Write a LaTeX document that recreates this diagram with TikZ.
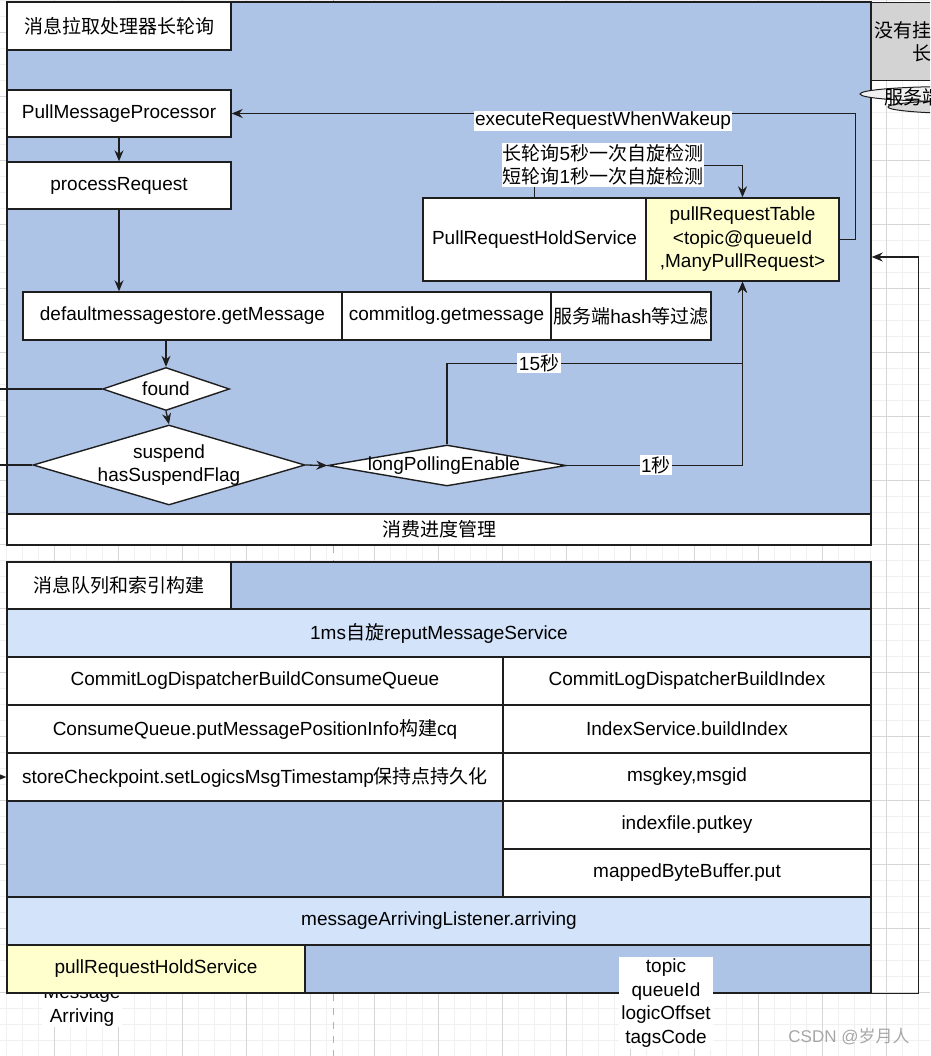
\documentclass[tikz,border=0pt]{standalone}
\usepackage{fontspec}
\setmainfont{Liberation Sans}
\newfontfamily\cjk{Noto Sans CJK SC}
\usetikzlibrary{arrows.meta,shapes.geometric,calc}
\definecolor{cblue}{RGB}{174,196,230}
\definecolor{clight}{RGB}{210,227,250}
\definecolor{cyel}{RGB}{255,255,206}
\definecolor{cgray}{RGB}{211,211,211}
\definecolor{cline}{RGB}{30,30,30}
\definecolor{gminor}{RGB}{240,240,240}
\definecolor{gmajor}{RGB}{214,214,214}
\begin{document}
\begin{tikzpicture}[x=1pt,y=-1pt,
 font=\fontsize{19}{23.5}\selectfont,
 bx/.style={draw=cline,line width=1.4pt,fill=white,inner sep=0pt,align=center},
 arr/.style={draw=cline,line width=1.3pt,-{Stealth[length=11pt,width=9pt]}},
 ln/.style={draw=cline,line width=1.3pt},
 lbl/.style={fill=white,inner sep=1.5pt,align=center},
 dia/.style={diamond,draw=cline,line width=1.4pt,fill=white,inner sep=0pt}]
\useasboundingbox (0,0) rectangle (930,1056);
\clip (0,0) rectangle (930,1056);
% grid
\foreach \x in {6,22,...,926} \draw[gminor,line width=0.8pt] (\x,0) -- (\x,1056);
\foreach \y in {0,16,...,1056} \draw[gminor,line width=0.8pt] (0,\y) -- (930,\y);
\foreach \x in {54,118,...,926} \draw[gmajor,line width=0.8pt] (\x,0) -- (\x,1056);
\foreach \y in {32,96,...,1056} \draw[gmajor,line width=0.8pt] (0,\y) -- (930,\y);
\draw[gray!60,line width=1pt,dash pattern=on 7pt off 7pt] (333,0) -- (333,1056);

% ===== top container =====
\node[draw=cline,line width=1.4pt,fill=cblue,minimum width=864pt,minimum height=543pt,inner sep=0pt] (topc) at (439,273.5) {};
\node[bx,minimum width=864pt,minimum height=31pt] (prog) at (439,529.5) {{\cjk 消费进度管理}};
\node[bx,minimum width=224pt,minimum height=48pt] (title1) at (119,26) {{\cjk 消息拉取处理器长轮询}};
\node[bx,minimum width=224pt,minimum height=47pt] (pmp) at (119,113.5) {PullMessageProcessor};
\node[bx,minimum width=224pt,minimum height=47pt] (pr) at (119,185.5) {processRequest};
\node[bx,minimum width=319pt,minimum height=48pt] (dms) at (182.5,316) {defaultmessagestore.getMessage};
\node[bx,minimum width=209pt,minimum height=48pt] (clg) at (446.5,316) {commitlog.getmessage};
\node[bx,minimum width=160pt,minimum height=48pt] (flt) at (631,316) {{\cjk 服务端}hash{\cjk 等过滤}};
\node[bx,minimum width=223pt,minimum height=83pt] (prhs) at (534.5,239.5) {PullRequestHoldService};
\node[bx,fill=cyel,minimum width=193pt,minimum height=83pt] (prt) at (742.5,239.5) {pullRequestTable\\<topic@queueId\\,ManyPullRequest>};
\node[dia,minimum width=127pt,minimum height=43pt] (found) at (166,389) {};
\node at (found) {found};
\node[dia,minimum width=272pt,minimum height=80pt] (sus) at (169,465) {};
\node[align=center] at (sus) {suspend\\hasSuspendFlag};
\node[dia,minimum width=238pt,minimum height=41pt] (lpe) at (447,465.5) {};
\node at ($(lpe)+(-3,0)$) {longPollingEnable};

\coordinate (leftA) at (-5,389);
\coordinate (leftB) at (-5,465);

% connectors (top)
\draw[arr] (pmp) -- (pr);
\draw[arr] (pr.south) -- (pr.south |- dms.north);
\draw[arr] (found.north |- dms.south) -- (found.north);
\draw[arr] (found.south) -- ($(found.south)!1!(sus.north)$);
\draw[ln] (found.west) -- (leftA);
\draw[ln] (sus.west) -- (leftB);
\draw[arr] (sus.east) -- (lpe.west);
\draw[arr] (lpe.north) |- ($(prt.south)+(0,82)$) -- (prt.south);
\node[lbl] at (539,363) {15{\cjk 秒}};
\draw[arr] (lpe.east) -| (prt.south);
\node[lbl] at (656,465) {1{\cjk 秒}};
\draw[arr] (prt.east) -- ++(16,0) |- (pmp.east);
\node[lbl] at (603,121) {executeRequestWhenWakeup};
\draw[arr] (prhs.north) |- ($(prt.north)+(0,-32)$) -- (prt.north);
\node[lbl,inner sep=1pt] at (603,165) {{\cjk 长轮询}5{\cjk 秒一次自旋检测}\\{\cjk 短轮询}1{\cjk 秒一次自旋检测}};

% right gray pieces
\node[draw=cline,line width=1.4pt,fill=cgray,minimum width=120pt,minimum height=78pt,inner sep=0pt,anchor=north west] (nohold) at (871,2) {};
\node[anchor=west,inner sep=0pt] at (874,30) {{\cjk 没有挂}};
\node[anchor=west,inner sep=0pt] at (912,53) {{\cjk 长}};
\draw[cline,line width=1pt,fill=gray!30] (985,107) ellipse [x radius=97pt,y radius=7pt];
\draw[cline,line width=1pt,fill=gray!12] (955,94) ellipse [x radius=95pt,y radius=7.5pt];
\node[anchor=west,inner sep=0pt] (srv) at (884,97) {{\cjk 服务端}};

% ===== bottom container =====
\node[anchor=center,fill=white,inner sep=1pt,align=center] (msgarr) at (82,1006) {Message\\Arriving};
\node[draw=cline,line width=1.4pt,fill=cblue,minimum width=864pt,minimum height=431pt,inner sep=0pt] (botc) at (439,777.5) {};
\node[bx,minimum width=224pt,minimum height=47pt] (title2) at (119,585.5) {{\cjk 消息队列和索引构建}};
\node[bx,fill=clight,minimum width=864pt,minimum height=48pt] (rep) at (439,633) {1ms{\cjk 自旋}reputMessageService};
\node[bx,minimum width=496pt,minimum height=48pt] (cq1) at (255,681) {CommitLogDispatcherBuildConsumeQueue};
\node[bx,minimum width=368pt,minimum height=48pt] (ix1) at (687,681) {CommitLogDispatcherBuildIndex};
\node[bx,minimum width=496pt,minimum height=48pt] (cq2) at (255,729) {ConsumeQueue.putMessagePositionInfo{\cjk 构建}cq};
\node[bx,minimum width=368pt,minimum height=48pt] (ix2) at (687,729) {IndexService.buildIndex};
\node[bx,minimum width=496pt,minimum height=48pt] (cq3) at (255,777) {storeCheckpoint.setLogicsMsgTimestamp{\cjk 保持点持久化}};
\node[bx,minimum width=368pt,minimum height=48pt] (ix3) at (687,777) {msgkey,msgid};
\node[bx,minimum width=368pt,minimum height=48pt] (ix4) at (687,825) {indexfile.putkey};
\node[bx,minimum width=368pt,minimum height=48pt] (ix5) at (687,873) {mappedByteBuffer.put};
\node[bx,fill=clight,minimum width=864pt,minimum height=48pt] (mal) at (439,921) {messageArrivingListener.arriving};
\node[bx,fill=cyel,minimum width=298pt,minimum height=48pt] (phs) at (156,969) {pullRequestHoldService};
\node[fill=white,inner sep=2pt,align=center] (fields) at (666,1003) {topic\\queueId\\logicOffset\\tagsCode};

\coordinate (leftC) at (-12,777);
\draw[arr] (leftC) -- (cq3.west);

% right return connector
\coordinate (retin) at (topc.east |- 0,257);
\draw[arr] (botc.south east) -- ++(47,0) |- (retin);

% watermark
\node[text=gray!70,font=\fontsize{17}{20}\selectfont] (wm) at (849,1036) {CSDN @{\cjk 岁月人}};
\end{tikzpicture}
\end{document}
